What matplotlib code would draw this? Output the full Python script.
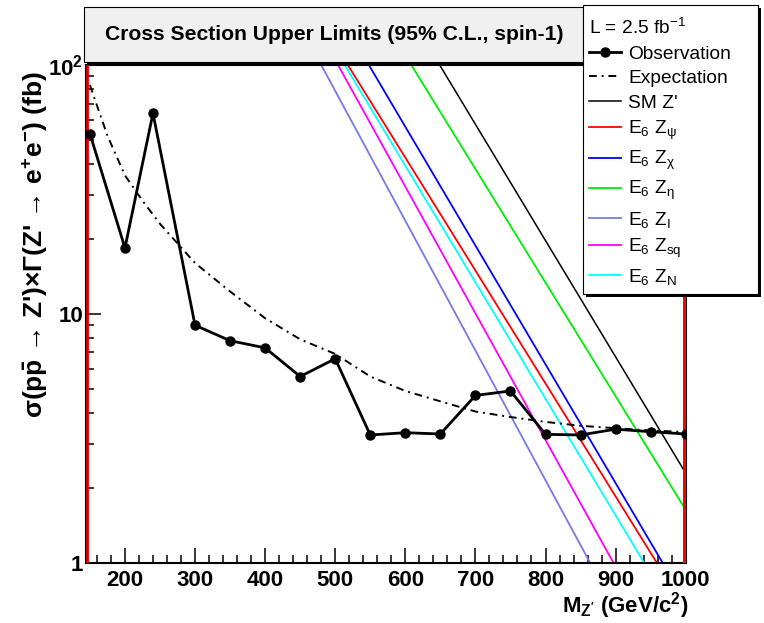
import numpy as np
import matplotlib
matplotlib.use('Agg')
import matplotlib.pyplot as plt
from matplotlib.font_manager import FontProperties
from matplotlib.patches import Rectangle
from matplotlib.ticker import MultipleLocator, FixedLocator, FixedFormatter, NullFormatter, LogLocator
from matplotlib.transforms import offset_copy

plt.rcParams['font.family'] = ['Liberation Sans', 'DejaVu Sans']
plt.rcParams['mathtext.default'] = 'regular'

# ---------------- data ----------------
obs_mass = [150, 200, 240, 300, 350, 400, 450, 500, 550, 600, 650, 700, 750, 800, 850, 900, 950, 1000]
obs_xsec = [53, 18.4, 64, 9.0, 7.8, 7.3, 5.6, 6.6, 3.26, 3.33, 3.29, 4.7, 4.9, 3.28, 3.26, 3.44, 3.36, 3.29]

exp_mass = [150, 175, 200, 225, 250, 300, 350, 400, 450, 500, 550, 600, 650, 700, 750, 800, 850, 900, 950, 1000]
exp_xsec = [83, 52, 36, 28.5, 23, 16, 12.3, 9.6, 7.9, 6.9, 5.6, 4.9, 4.45, 4.05, 3.85, 3.68, 3.55, 3.47, 3.4, 3.35]

sm_mass, sm_xsec = [649, 1000], [100, 2.29]
psi_mass, psi_xsec = [518, 958.7], [100, 1]
chi_mass, chi_xsec = [548, 967], [100, 1]
eta_mass, eta_xsec = [608.5, 1000], [100, 1.63]
zi_mass, zi_xsec = [480, 863.5], [100, 1]
sq_mass, sq_xsec = [504, 896.8], [100, 1]
zn_mass, zn_xsec = [513.5, 940.6], [100, 1]

x_range = [144, 1000]
y_range = [1, 100]
x_major = 100
x_minor = 20
y_ticks = [1, 10, 100]
y_ticklabels = ['1', '10', '$10^2$']

title = 'Cross Section Upper Limits (95% C.L., spin-1)'
legend_header = 'L = 2.5 fb$^{-1}$'

# ---------------- figure ----------------
W, H = 764, 623
fig = plt.figure(figsize=(W / 100, H / 100), dpi=100)


def fx(px):
    return px / W


def fy(py):
    return 1 - py / H


ax = fig.add_axes([fx(85.7), fy(562.7), (685.7 - 85.7) / W, (562.7 - 65) / H])

h_obs, = ax.plot(obs_mass, obs_xsec, color='k', lw=2.0, marker='o', ms=6.5, label='Observation', zorder=5)
h_exp, = ax.plot(exp_mass, exp_xsec, color='k', lw=1.4, linestyle=(0, (4, 2.5, 1, 2.5)), label='Expectation', zorder=4)
h_sm, = ax.plot(sm_mass, sm_xsec, color='k', lw=1.1, label="SM Z'")
h_psi, = ax.plot(psi_mass, psi_xsec, color='#ff0000', lw=1.3, label='E$_6$ Z$_ψ$')
h_chi, = ax.plot(chi_mass, chi_xsec, color='#0000ff', lw=1.3, label='E$_6$ Z$_χ$')
h_eta, = ax.plot(eta_mass, eta_xsec, color='#00ee00', lw=1.3, label='E$_6$ Z$_η$')
h_zi, = ax.plot(zi_mass, zi_xsec, color='#7878e8', lw=1.3, label='E$_6$ Z$_I$')
h_sq, = ax.plot(sq_mass, sq_xsec, color='#ff00ff', lw=1.3, label='E$_6$ Z$_{sq}$')
h_zn, = ax.plot(zn_mass, zn_xsec, color='#00ffff', lw=1.3, label='E$_6$ Z$_N$')

# red boundary lines at both ends of the mass range
tl = offset_copy(ax.get_xaxis_transform(), fig=fig, x=1.5, y=0, units='dots')
tr = offset_copy(ax.get_xaxis_transform(), fig=fig, x=-1.5, y=0, units='dots')
ax.plot([x_range[0], x_range[0]], [0, 1], color='#dd0000', lw=2, transform=tl, zorder=3)
ax.plot([x_range[1], x_range[1]], [0, 1], color='#ff0000', lw=2.2, transform=tr, zorder=3)

ax.set_yscale('log')
ax.set_xlim(x_range)
ax.set_ylim(y_range)

ax.xaxis.set_major_locator(MultipleLocator(x_major))
ax.xaxis.set_minor_locator(MultipleLocator(x_minor))
ax.yaxis.set_major_locator(FixedLocator(y_ticks))
ax.yaxis.set_major_formatter(FixedFormatter(y_ticklabels))
ax.yaxis.set_minor_locator(LogLocator(base=10, subs=np.arange(2, 10)))
ax.yaxis.set_minor_formatter(NullFormatter())

ax.tick_params(which='both', direction='in', top=False, right=False, width=1.1, colors='k')
ax.tick_params(which='major', length=11)
ax.tick_params(which='minor', length=6)
ax.tick_params(axis='x', which='major', pad=5)
ax.tick_params(axis='y', which='major', pad=2)
for lab in ax.get_xticklabels() + ax.get_yticklabels():
    lab.set_fontsize(16)
    lab.set_fontweight('bold')

for sp in ax.spines.values():
    sp.set_linewidth(1.5)

ax.set_ylabel("σ(p$\\bar{p}$ → Z')×Γ(Z' → e$^{+}$e$^{-}$) (fb)", fontsize=19, fontweight='bold', va='center')
ax.yaxis.set_label_coords((35 - 85.7) / 600, (562.7 - 245) / 497.7)
ax.set_xlabel("M$_{Z'}$ (GeV/c$^{2}$)", fontsize=16, fontweight='bold', ha='right', va='top')
ax.xaxis.set_label_coords((688 - 85.7) / 600, (562.7 - 590) / 497.7)

# ---------------- title box ----------------
fig.add_artist(Rectangle((fx(87), fy(65)), (583 - 84) / W, (62 - 7) / H, transform=fig.transFigure,
                         facecolor='k', edgecolor='none', zorder=1))
fig.add_artist(Rectangle((fx(84), fy(62)), (583 - 84) / W, (62 - 7) / H, transform=fig.transFigure,
                         facecolor='#f0f0f0', edgecolor='k', lw=0.8, zorder=1.1))
fig.text(fx(334), fy(35), title, ha='center', va='center', fontsize=15.2, fontweight='bold', zorder=3)

# ---------------- legend ----------------
fig.add_artist(Rectangle((fx(586), fy(297)), (758 - 583) / W, (294 - 5) / H, transform=fig.transFigure,
                         facecolor='k', edgecolor='none', zorder=1.2))
fig.add_artist(Rectangle((fx(583), fy(294)), (758 - 583) / W, (294 - 5) / H, transform=fig.transFigure,
                         facecolor='white', edgecolor='k', lw=0.8, zorder=1.3))

fs = 13.8
fs_px = fs * 100 / 72
lp = FontProperties(family=['Liberation Sans', 'DejaVu Sans'], size=fs)
handles = [h_obs, h_exp, h_sm, h_psi, h_chi, h_eta, h_zi, h_sq, h_zn]
leg = fig.legend(handles, [h.get_label() for h in handles], loc='upper left',
                 bbox_to_anchor=(fx(589), fy(18)), frameon=False, borderpad=0, borderaxespad=0,
                 prop=lp, title=legend_header, title_fontproperties=lp, alignment='left',
                 handlelength=32 / fs_px, handletextpad=7 / fs_px, labelspacing=0.37)
leg.set_zorder(6)

fig.savefig('out.png', dpi=100)
